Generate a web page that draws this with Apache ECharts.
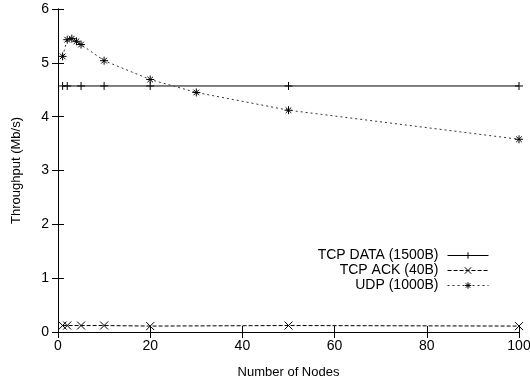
<!DOCTYPE html>
<html><head><meta charset="utf-8">
<script src="https://cdn.jsdelivr.net/npm/echarts@6/dist/echarts.min.js"></script>
<style>html,body{margin:0;padding:0;background:#fff}#c{width:530px;height:381px}</style>
</head><body><div id="c"></div>
<script>
const tcpX = [1, 2, 5, 10, 20, 50, 100];
const tcpData = [4.57, 4.57, 4.57, 4.57, 4.57, 4.57, 4.57];
const tcpAck = [0.12, 0.12, 0.12, 0.12, 0.11, 0.12, 0.11];
const udpX = [1, 2, 3, 4, 5, 10, 20, 30, 50, 100];
const udp = [5.12, 5.43, 5.45, 5.40, 5.34, 5.04, 4.69, 4.45, 4.12, 3.58];
const names = ['TCP DATA (1500B)', 'TCP ACK (40B)', 'UDP (1000B)'];

const FONT = 'Liberation Sans';
const plus = 'path://M0,5L10,5M5,0L5,10';
const cross = 'path://M0,0L10,10M0,10L10,0';
const star = 'path://M0,5L10,5M5,0L5,10M1.5,1.5L8.5,8.5M1.5,8.5L8.5,1.5';
const pairs = (xs, ys) => xs.map((x, i) => [x, ys[i]]);
const mk = (name, xs, ys, sym, type, col) => ({
  name, type: 'line', data: pairs(xs, ys), symbol: sym, symbolSize: 8,
  showAllSymbol: true,
  lineStyle: {color: col, width: 1, type: type},
  itemStyle: {color: '#000', borderColor: '#000', borderWidth: 1},
  emphasis: {disabled: true}, animation: false
});
const chart = echarts.init(document.getElementById('c'));
const tick = {show: true, inside: true, length: 6, lineStyle: {color: '#000'}};
chart.setOption({
  animation: false,
  grid: {left: 58, right: 11, top: 9, bottom: 49, containLabel: false, outerBoundsMode: 'none'},
  legend: {
    orient: 'vertical', right: 36, top: 243, align: 'right',
    itemWidth: 41, itemHeight: 8, itemGap: 0,
    textStyle: {fontFamily: FONT, fontSize: 14, color: '#000', lineHeight: 15, padding: [0, 4, 0, 0]},
    lineStyle: {width: 1},
    itemStyle: {borderWidth: 1},
    data: names
  },
  xAxis: [{
    type: 'value', min: 0, max: 100, interval: 20,
    name: 'Number of Nodes', nameLocation: 'middle', nameGap: 34,
    nameTextStyle: {fontFamily: FONT, fontSize: 13, color: '#000'},
    axisLine: {show: true, lineStyle: {color: '#000'}}, axisTick: tick,
    axisLabel: {fontFamily: FONT, fontSize: 14, color: '#000', margin: 7},
    splitLine: {show: false}
  }, {
    type: 'value', min: 0, max: 100, interval: 20, position: 'top',
    axisLine: {show: true, lineStyle: {color: '#000'}}, axisTick: tick,
    axisLabel: {show: false}, splitLine: {show: false}
  }],
  yAxis: [{
    type: 'value', min: 0, max: 6, interval: 1,
    name: 'Throughput (Mb/s)', nameLocation: 'middle', nameGap: 35,
    nameTextStyle: {fontFamily: FONT, fontSize: 13, color: '#000'},
    axisLine: {show: true, lineStyle: {color: '#000'}}, axisTick: tick,
    axisLabel: {fontFamily: FONT, fontSize: 14, color: '#000', margin: 9},
    splitLine: {show: false}
  }, {
    type: 'value', min: 0, max: 6, interval: 1, position: 'right',
    axisLine: {show: true, lineStyle: {color: '#000'}}, axisTick: tick,
    axisLabel: {show: false}, splitLine: {show: false}
  }],
  series: [
    mk(names[0], tcpX, tcpData, plus, 'solid', '#000'),
    mk(names[1], tcpX, tcpAck, cross, [4, 2], '#000'),
    mk(names[2], udpX, udp, star, [2, 3], '#333')
  ]
});
</script></body></html>
